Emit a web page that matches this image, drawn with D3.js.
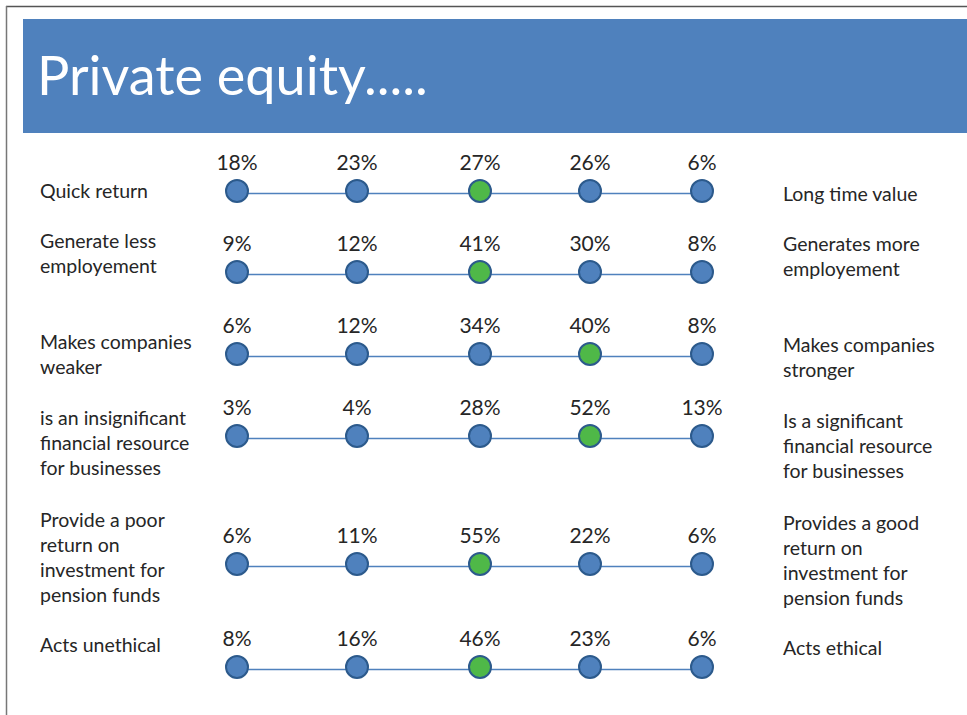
<!DOCTYPE html>
<html>
<head>
    <meta charset="utf-8">
    <title>Private equity</title>
    <script src="https://cdn.jsdelivr.net/npm/d3@7"></script>
    <style>
        body { margin: 0; background: #fff; }
        text { font-family: Lato, "Open Sans", sans-serif; }
    </style>
</head>
<body>
    <svg width="967" height="715" id="mainsvg"></svg>
    <script>
        // data
        const scaleSteps = ['1', '2', '3', '4', '5'];
        const leftLabels = [
            ['Quick return'],
            ['Generate less', 'employement'],
            ['Makes companies', 'weaker'],
            ['is an insignificant', 'financial resource', 'for businesses'],
            ['Provide a poor', 'return on', 'investment for', 'pension funds'],
            ['Acts unethical']
        ];
        const rightLabels = [
            ['Long time value'],
            ['Generates more', 'employement'],
            ['Makes companies', 'stronger'],
            ['Is a significant', 'financial resource', 'for businesses'],
            ['Provides a good', 'return on', 'investment for', 'pension funds'],
            ['Acts ethical']
        ];
        const shares = [
            [18, 23, 27, 26, 6],
            [9, 12, 41, 30, 8],
            [6, 12, 34, 40, 8],
            [3, 4, 28, 52, 13],
            [6, 11, 55, 22, 6],
            [8, 16, 46, 23, 6]
        ];

        const svg = d3.select('#mainsvg');
        const width = +svg.attr('width');

        // slide frame
        svg.append('line').attr('x1', 6).attr('x2', width).attr('y1', 6.5).attr('y2', 6.5)
            .attr('stroke', '#555').attr('stroke-width', 1.5);
        svg.append('line').attr('x1', 6.5).attr('x2', 6.5).attr('y1', 6).attr('y2', 715)
            .attr('stroke', '#777').attr('stroke-width', 1.5);

        // title banner
        svg.append('rect').attr('x', 23).attr('y', 19).attr('width', width - 23).attr('height', 114)
            .attr('fill', '#4f81bd');
        svg.append('text').text('Private equity.....')
            .attr('x', 37).attr('y', 95)
            .attr('font-size', 54).attr('fill', '#fff');

        // scales (layout of the rows follows the label heights)
        const rowIdx = d3.range(shares.length);
        const xScale = d3.scaleOrdinal().domain(scaleSteps).range([237, 357, 480, 590, 702]);
        const yScale = d3.scaleOrdinal().domain(rowIdx).range([191, 272, 354, 436, 564, 667]);
        const labelShift = [7, -24, -5, -11, -37, -15];

        const g = svg.append('g');
        const lineH = 25;

        rowIdx.forEach(i => {
            const y = yScale(i);
            const maxV = d3.max(shares[i]);
            const row = g.append('g');

            row.append('line')
                .attr('x1', xScale(scaleSteps[0])).attr('x2', xScale(scaleSteps[4]))
                .attr('y1', y + 2.5).attr('y2', y + 2.5)
                .attr('stroke', '#4f81bd').attr('stroke-width', 1.5);

            row.selectAll('circle').data(shares[i]).join('circle')
                .attr('cx', (d, j) => xScale(scaleSteps[j]))
                .attr('cy', y)
                .attr('r', 11)
                .attr('fill', d => d === maxV ? '#4fb848' : '#4f81bd')
                .attr('stroke', '#2c5a8c').attr('stroke-width', 2);

            row.selectAll('text.pct').data(shares[i]).join('text')
                .attr('class', 'pct')
                .attr('x', (d, j) => xScale(scaleSteps[j]))
                .attr('y', y - 21)
                .attr('text-anchor', 'middle')
                .attr('font-size', 21).attr('fill', '#262626')
                .text(d => d + '%');

            const lt = row.append('text').attr('font-size', 19.5).attr('fill', '#262626');
            leftLabels[i].forEach((s, k) => {
                lt.append('tspan').attr('x', 40).attr('y', y + labelShift[i] + k * lineH).text(s);
            });
            const rt = row.append('text').attr('font-size', 19.5).attr('fill', '#262626');
            rightLabels[i].forEach((s, k) => {
                rt.append('tspan').attr('x', 783).attr('y', y + labelShift[i] + 2.5 + k * lineH).text(s);
            });
        });
    </script>
</body>
</html>
